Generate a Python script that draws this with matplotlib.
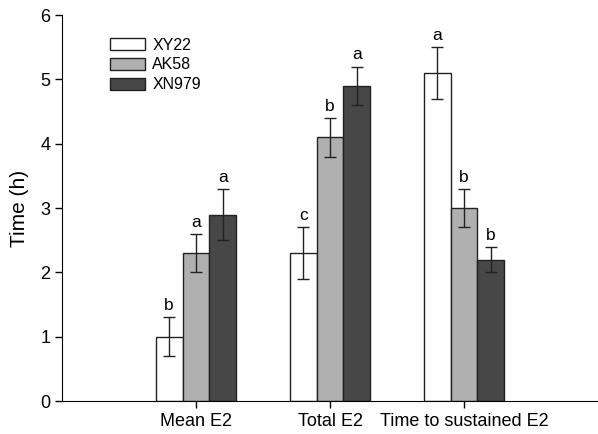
import numpy as np
import matplotlib.pyplot as plt

plt.rcParams['font.family'] = ['Liberation Sans', 'DejaVu Sans']

categories = ["Mean E2", "Total E2", "Time to sustained E2"]
series = ["XY22", "AK58", "XN979"]
xy22 = [1.0, 2.3, 5.1]
ak58 = [2.3, 4.1, 3.0]
xn979 = [2.9, 4.9, 2.2]
xy22_err = [0.3, 0.4, 0.4]
ak58_err = [0.3, 0.3, 0.3]
xn979_err = [0.4, 0.3, 0.2]
xy22_letters = ["b", "c", "a"]
ak58_letters = ["a", "b", "b"]
xn979_letters = ["a", "a", "b"]

values = [xy22, ak58, xn979]
errors = [xy22_err, ak58_err, xn979_err]
letters = [xy22_letters, ak58_letters, xn979_letters]
colors = ["white", "#b0b0b0", "#474747"]

fig = plt.figure(figsize=(5.98, 4.34), dpi=100)
ax = fig.add_axes([0.1037, 0.076, 0.8963, 0.889])

x = np.arange(1, len(categories) + 1)
width = 0.2
for i, name in enumerate(series):
    pos = x + (i - 1) * width
    ax.bar(pos, values[i], width, color=colors[i], edgecolor="#222222",
           linewidth=1.0, label=name, zorder=2)
    ax.errorbar(pos, values[i], yerr=errors[i], fmt="none", ecolor="#222222",
                elinewidth=1.0, capsize=4.3, capthick=1.0, zorder=3)
    for p, v, e, t in zip(pos, values[i], errors[i], letters[i]):
        ax.annotate(t, (p, v + e), xytext=(0, 3), textcoords="offset points",
                    ha="center", va="bottom", fontsize=12.5)

ax.set_xlim(0, 4)
ax.set_ylim(0, 6)
ax.set_xticks(x)
ax.set_xticklabels(categories, fontsize=13)
ax.set_yticks(range(0, 7))
ax.tick_params(axis="both", direction="out", length=5, width=1, labelsize=13)
ax.set_ylabel("Time (h)", fontsize=15, labelpad=8)
for s in ["top", "right"]:
    ax.spines[s].set_visible(False)

ax.legend(loc="upper left", bbox_to_anchor=(0.173, 0.928),
          bbox_transform=fig.transFigure, frameon=False, fontsize=11.5,
          handlelength=2.2, handleheight=0.8, labelspacing=0.3,
          handletextpad=0.45, borderaxespad=0)

fig.savefig("out.png", dpi=100)
